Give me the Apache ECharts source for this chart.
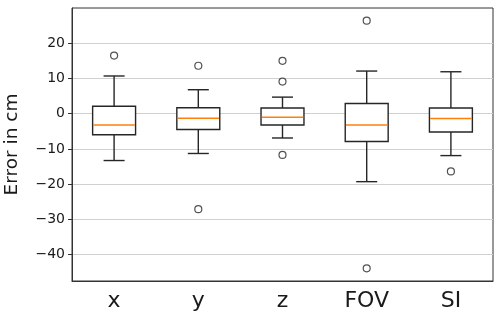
<!DOCTYPE html>
<html>
<head>
<meta charset="utf-8">
<script src="https://cdn.jsdelivr.net/npm/echarts@6/dist/echarts.min.js"></script>
<style>html,body{margin:0;padding:0;background:#fff}#c{width:500px;height:320px}</style>
</head>
<body>
<div id="c"></div>
<script>
const categories = ['x', 'y', 'z', 'FOV', 'SI'];
const whiskerLow = [-13.3, -11.3, -6.9, -19.3, -11.9];
const quartile1  = [-6.0, -4.5, -3.2, -7.9, -5.2];
const medians    = [-3.2, -1.3, -1.0, -3.2, -1.4];
const quartile3  = [2.1, 1.7, 1.6, 2.9, 1.6];
const whiskerHigh = [10.7, 6.8, 4.7, 12.1, 11.9];
const outliers = [
  [16.5],
  [13.6, -27.1],
  [15.0, 9.1, -11.7],
  [26.4, -43.9],
  [-16.4]
];
const yTicks = [-40, -30, -20, -10, 0, 10, 20];
const yMin = -47.5, yMax = 30;

const boxData = categories.map((c, i) => [i, whiskerLow[i], quartile1[i], medians[i], quartile3[i], whiskerHigh[i]]);
const outlierData = [];
outliers.forEach((arr, i) => arr.forEach(v => outlierData.push([i, v])));

const edge = '#262626';
function renderBox(params, api) {
  const i = api.value(0);
  const pLow = api.coord([i, api.value(1)]);
  const pQ1 = api.coord([i, api.value(2)]);
  const pMed = api.coord([i, api.value(3)]);
  const pQ3 = api.coord([i, api.value(4)]);
  const pHigh = api.coord([i, api.value(5)]);
  const band = api.size([1, 0])[0];
  const bw = band * 0.51;
  const cw = band * 0.25;
  const x = pMed[0];
  const ls = { stroke: edge, lineWidth: 1.4, fill: null };
  return {
    type: 'group',
    children: [
      { type: 'line', shape: { x1: x, y1: pQ3[1], x2: x, y2: pHigh[1] }, style: ls },
      { type: 'line', shape: { x1: x, y1: pQ1[1], x2: x, y2: pLow[1] }, style: ls },
      { type: 'line', shape: { x1: x - cw / 2, y1: pHigh[1], x2: x + cw / 2, y2: pHigh[1] }, style: ls },
      { type: 'line', shape: { x1: x - cw / 2, y1: pLow[1], x2: x + cw / 2, y2: pLow[1] }, style: ls },
      { type: 'rect', shape: { x: x - bw / 2, y: pQ3[1], width: bw, height: pQ1[1] - pQ3[1] }, style: { stroke: edge, lineWidth: 1.4, fill: '#fff' } },
      { type: 'line', shape: { x1: x - bw / 2 + 0.7, y1: pMed[1], x2: x + bw / 2 - 0.7, y2: pMed[1] }, style: { stroke: '#ff7f0e', lineWidth: 1.5 } }
    ]
  };
}

const chart = echarts.init(document.getElementById('c'), null, { renderer: 'canvas' });
chart.setOption({
  animation: false,
  backgroundColor: '#fff',
  grid: { left: 72, right: 7, top: 8, bottom: 39, containLabel: false, outerBoundsMode: 'none', show: true, borderColor: '#333', borderWidth: 1, backgroundColor: 'transparent' },
  xAxis: {
    type: 'category',
    data: categories,
    boundaryGap: true,
    axisLine: { onZero: false, lineStyle: { color: '#333', width: 1 } },
    axisTick: { alignWithLabel: true, length: 4, lineStyle: { color: '#333' } },
    axisLabel: { fontSize: 22, color: '#1a1a1a', margin: 9, fontFamily: 'DejaVu Sans' },
    splitLine: { show: false }
  },
  yAxis: {
    type: 'value',
    min: yMin,
    max: yMax,
    splitNumber: 8,
    name: 'Error in cm',
    nameLocation: 'middle',
    nameGap: 50,
    nameRotate: 90,
    nameTextStyle: { fontSize: 18.5, color: '#1a1a1a', fontFamily: 'DejaVu Sans' },
    axisLine: { show: true, lineStyle: { color: '#333', width: 1 } },
    axisTick: { show: true, length: 4, lineStyle: { color: '#333' }, customValues: yTicks },
    axisLabel: {
      fontSize: 14, color: '#1a1a1a', margin: 7, fontFamily: 'DejaVu Sans',
      customValues: yTicks,
      formatter: v => String(v).replace('-', '\u2212')
    },
    splitLine: { show: true, lineStyle: { color: '#d0d0d0', width: 1 } }
  },
  series: [
    {
      type: 'custom',
      renderItem: renderBox,
      data: boxData,
      encode: { x: 0, y: [1, 2, 3, 4, 5] },
      z: 2
    },
    {
      type: 'scatter',
      data: outlierData,
      symbol: 'circle',
      symbolSize: 7,
      itemStyle: { color: '#fff', borderColor: edge, borderWidth: 1.2 },
      z: 3
    }
  ]
});
</script>
</body>
</html>
